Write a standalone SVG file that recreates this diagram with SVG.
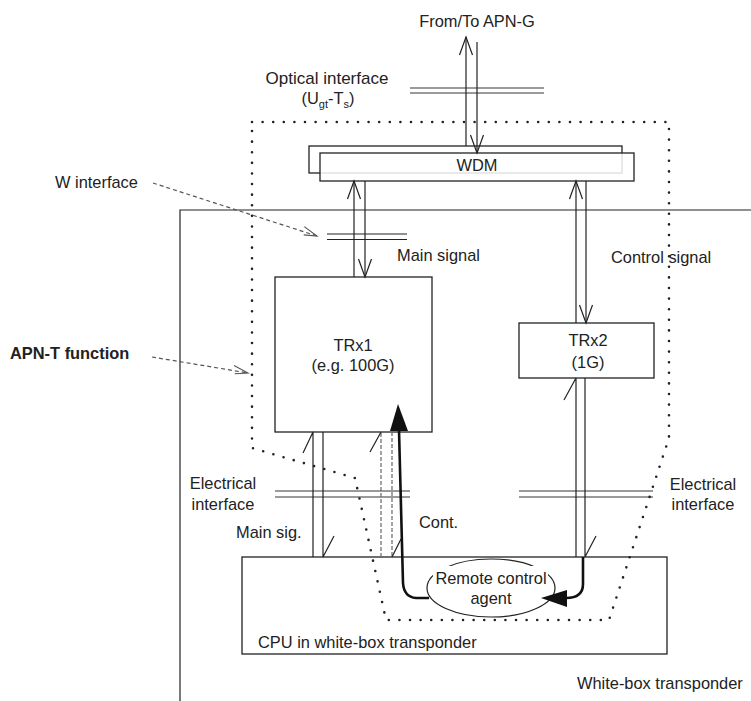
<svg xmlns="http://www.w3.org/2000/svg" width="751" height="701" viewBox="0 0 751 701">
<style>
text{font-family:"Liberation Sans",Arial,sans-serif;font-size:16.4px;fill:#222}
.box{fill:#fff;stroke:#222;stroke-width:1.3}
.ln{fill:none;stroke:#222;stroke-width:1.2}
.dl{fill:none;stroke:#7a7a7a;stroke-width:1.6}
.dash{fill:none;stroke:#555;stroke-width:1.2;stroke-dasharray:4 3}
.gdash{fill:none;stroke:#666;stroke-width:1.2;stroke-dasharray:4 2}
.dot{fill:none;stroke:#222;stroke-width:2.6;stroke-linecap:round;stroke-dasharray:0 10.6}
.thick{fill:none;stroke:#111;stroke-width:2.6}
.m{text-anchor:middle}
</style>
<defs>
<marker id="open" markerUnits="userSpaceOnUse" markerWidth="20" markerHeight="16" refX="18" refY="6.5" orient="auto" overflow="visible">
<path d="M0,0 L18,6.5 L0,13" fill="none" stroke="#222" stroke-width="1.2"/>
</marker>
<marker id="openc" markerUnits="userSpaceOnUse" markerWidth="18" markerHeight="14" refX="15" refY="5" orient="auto" overflow="visible">
<path d="M0,0 L15,5 L2,8" fill="none" stroke="#555" stroke-width="1.1"/>
</marker>
</defs>

<g id="white-box-transponder">
<path class="ln" d="M180,701 V210 H751"/>
<text x="577" y="689">White-box transponder</text>
</g>

<g id="interfaces">
<path class="dl" d="M410,88 H544 M410,93 H544"/>
<path class="ln" d="M327,234 H407 M327,239.5 H407"/>
<path class="dl" d="M275,491 H410 M275,497 H410"/>
<path class="dl" d="M519,491 H653 M519,497 H653"/>
</g>

<g id="wdm">
<rect class="box" x="309" y="146" width="313" height="27"/>
<rect x="320" y="153" width="314" height="28" fill="#fff" fill-opacity="0.85" stroke="#222" stroke-width="1.3"/>
<text class="m" x="477" y="171">WDM</text>
</g>

<g id="trx1">
<rect class="box" x="275" y="277" width="157" height="155"/>
<text class="m" x="353" y="351">TRx1</text>
<text class="m" x="353" y="371">(e.g. 100G)</text>
</g>

<g id="trx2">
<rect class="box" x="519" y="323" width="135" height="55"/>
<text class="m" x="588" y="346">TRx2</text>
<text class="m" x="588" y="368">(1G)</text>
</g>

<g id="cpu">
<rect class="box" x="242" y="557" width="425" height="97"/>
<text x="258" y="648">CPU in white-box transponder</text>
</g>

<g id="remote-control-agent">
<ellipse cx="491" cy="588" rx="64" ry="29" fill="none" stroke="#222" stroke-width="1.2"/>
<rect x="433" y="566" width="115" height="22" fill="#fff"/>
<text class="m" x="491" y="584">Remote control</text>
<text class="m" x="491" y="604">agent</text>
</g>

<g id="apn-t-boundary">
<path class="dot" d="M252,122 H669 V438 L609,620 H386 L355,478 L252,448 Z"/>
</g>

<g id="connectors">
<path class="ln" d="M466,146 V37" marker-end="url(#open)"/>
<path class="ln" d="M477,42 V153" marker-end="url(#open)"/>
<path class="ln" d="M354,277 V181" marker-end="url(#open)"/>
<path class="ln" d="M365,181 V277" marker-end="url(#open)"/>
<path class="ln" d="M576,323 V181" marker-end="url(#open)"/>
<path class="ln" d="M586,181 V323" marker-end="url(#open)"/>
<path class="ln" d="M313,557 V432 L303,453"/>
<path class="ln" d="M323,432 V557 L334,536"/>
<path class="gdash" d="M381,557 V432"/>
<path class="gdash" d="M392,432 V557"/>
<path class="ln" d="M381,432 L370,452 M392,557 L401,539"/>
<path class="ln" d="M576,557 V378 L564,400"/>
<path class="ln" d="M585,378 V557 L596,536"/>
<path class="thick" d="M429,598 L416,598 Q404,597 403,583 L399,430"/>
<polygon points="398,404 390,431 408,431" fill="#111"/>
<path class="thick" d="M583,557 L583,584 Q583,598 566,598"/>
<polygon points="541,598 567,590 567,607" fill="#111"/>
<path class="dash" d="M153,183 L317,236" marker-end="url(#openc)"/>
<path class="dash" d="M152,357 L248,373" marker-end="url(#openc)"/>
</g>

<g id="labels">
<text class="m" x="477" y="27">From/To APN-G</text>
<text class="m" x="327" y="84" style="font-size:17px">Optical interface</text>
<text class="m" x="328" y="104">(U<tspan dy="4" style="font-size:11px">gt</tspan><tspan dy="-4">-T</tspan><tspan dy="4" style="font-size:11px">s</tspan><tspan dy="-4">)</tspan></text>
<text x="55" y="188">W interface</text>
<text x="10" y="359" style="font-weight:bold">APN-T function</text>
<text x="397" y="261">Main signal</text>
<text x="611" y="263">Control signal</text>
<text class="m" x="223" y="489">Electrical</text>
<text class="m" x="223" y="510">interface</text>
<text class="m" x="703" y="490">Electrical</text>
<text class="m" x="703" y="510">interface</text>
<text x="236" y="538">Main sig.</text>
<text x="419" y="528">Cont.</text>
</g>
</svg>
